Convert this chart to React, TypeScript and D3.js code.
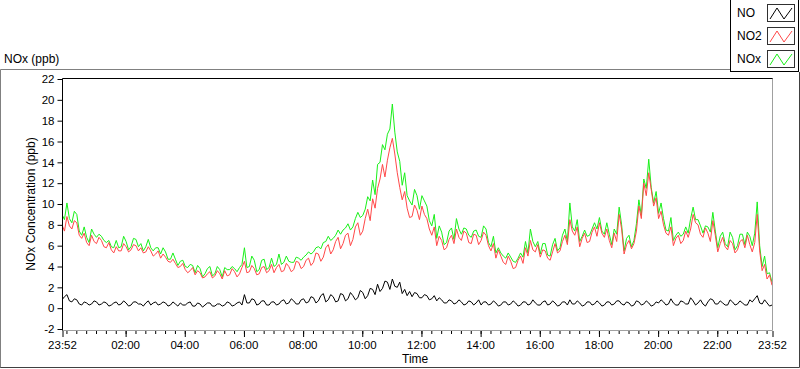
import React, { useEffect, useRef } from "react";
import * as d3 from "d3";

// readings every 5 minutes, starting 23:52
const START = new Date(2020, 0, 1, 23, 52);
const STEP_MIN = 5;

const noValues = [
  0.8, 1.1, 1.3, 0.7, 0.6, 0.9, 0.8, 0.4, 0.3, 0.6, 0.5, 0.3, 0.4, 0.7, 0.6, 0.3, 0.4, 0.6, 0.5, 0.2,
  0.3, 0.5, 0.6, 0.3, 0.4, 0.7, 0.5, 0.2, 0.3, 0.6, 0.6, 0.4, 0.4, 0.2, 0.5, 0.7, 0.3, 0.5, 0.6, 0.3,
  0.4, 0.6, 0.5, 0.2, 0.3, 0.6, 0.4, 0.2, 0.5, 0.3, 0.3, 0.5, 0.6, 0.2, 0.2, 0.5, 0.4, 0.1, 0.3, 0.5,
  0.5, 0.2, 0.2, 0.4, 0.4, 0.2, 0.3, 0.6, 0.5, 0.2, 0.3, 0.5, 0.6, 0.3, 1.3, 0.5, 0.5, 0.9, 0.8, 0.3,
  0.4, 0.7, 0.7, 0.3, 0.3, 0.6, 0.6, 0.3, 0.4, 0.7, 0.8, 0.4, 0.5, 0.9, 0.7, 0.4, 0.4, 0.8, 0.9, 0.5,
  0.6, 1.1, 1.0, 0.5, 0.7, 1.2, 1.4, 0.6, 0.8, 1.3, 1.1, 0.6, 0.7, 1.4, 1.3, 0.7, 0.9, 1.5, 1.2, 0.8,
  1.0, 1.7, 1.5, 0.9, 1.2, 1.9, 1.8, 1.3, 2.3, 1.6, 1.9, 2.6, 2.5, 1.8, 2.8, 2.1, 2.0, 2.5, 1.4, 1.8,
  1.2, 1.6, 1.1, 1.5, 1.4, 1.0, 1.0, 1.3, 1.2, 0.8, 0.9, 1.2, 0.7, 1.0, 0.8, 0.5, 0.5, 0.8, 0.7, 0.4,
  0.5, 0.8, 0.6, 0.3, 0.4, 0.7, 0.6, 0.3, 0.5, 0.8, 0.3, 0.6, 0.6, 0.3, 0.4, 0.7, 0.5, 0.2, 0.3, 0.6,
  0.6, 0.3, 0.4, 0.7, 0.5, 0.2, 0.3, 0.6, 0.6, 0.3, 0.4, 0.8, 0.5, 0.3, 0.3, 0.6, 0.7, 0.3, 0.4, 0.7,
  0.5, 0.2, 0.3, 0.6, 0.6, 0.3, 0.8, 0.4, 0.4, 0.7, 0.5, 0.2, 0.3, 0.6, 0.6, 0.3, 0.4, 0.7, 0.5, 0.2,
  0.3, 0.6, 0.6, 0.3, 0.4, 0.7, 0.7, 0.4, 0.3, 0.6, 0.5, 0.2, 0.3, 0.7, 0.6, 0.3, 0.4, 0.7, 0.5, 0.2,
  0.3, 0.6, 0.5, 0.8, 0.6, 0.3, 0.4, 0.9, 0.5, 0.3, 0.3, 0.7, 0.6, 0.4, 0.4, 1.0, 0.7, 0.3, 0.5, 0.8,
  0.4, 0.2, 0.6, 0.9, 0.8, 0.4, 0.4, 0.7, 0.5, 0.3, 0.3, 0.8, 0.6, 0.3, 0.4, 0.7, 0.5, 0.3, 0.3, 0.8,
  0.6, 0.9, 1.2, 0.5, 0.4, 0.8, 0.5, 0.2, 0.3,
];

const no2Values = [
  8.0, 7.4, 8.8, 7.9, 7.6, 8.4, 8.2, 7.0, 6.7, 7.2, 6.3, 6.0, 7.0, 6.4, 6.2, 6.8, 6.5, 5.9, 5.8, 6.3,
  5.6, 5.3, 5.9, 5.5, 5.5, 6.2, 5.9, 5.4, 5.6, 6.1, 6.0, 5.5, 5.8, 5.3, 5.4, 5.9, 5.5, 5.0, 5.2, 5.5,
  4.8, 5.2, 4.9, 4.5, 4.4, 4.7, 4.3, 3.9, 4.0, 4.3, 3.7, 3.4, 3.6, 3.9, 3.2, 3.6, 3.4, 2.9, 3.0, 3.3,
  3.5, 2.9, 3.1, 3.6, 3.3, 2.8, 3.6, 3.1, 3.2, 3.8, 3.5, 3.0, 3.3, 3.9, 4.5, 3.4, 3.5, 4.1, 3.8, 3.2,
  3.3, 3.9, 4.0, 3.4, 3.6, 4.2, 3.4, 3.9, 4.2, 3.5, 3.6, 4.3, 4.0, 3.5, 3.7, 4.5, 4.4, 3.8, 4.0, 4.6,
  4.8, 4.1, 4.4, 5.3, 5.2, 4.5, 4.9, 5.8, 6.1, 5.2, 5.6, 6.4, 6.8, 5.7, 6.2, 7.0, 7.2, 6.0, 6.6, 7.8,
  8.2, 7.0, 7.4, 8.6, 9.5, 8.4, 10.5, 9.6, 11.5, 12.4, 13.8, 12.6, 14.2, 15.4, 16.3, 14.8, 13.0, 11.6, 10.4, 11.2,
  9.6, 8.7, 8.8, 9.9, 9.4, 8.5, 9.8, 9.0, 8.6, 7.6, 7.0, 7.8, 6.0, 6.9, 6.5, 5.6, 5.8, 6.6, 7.0, 6.2,
  7.6, 6.8, 6.5, 7.4, 7.2, 6.3, 6.2, 7.1, 7.0, 6.1, 6.5, 7.3, 7.0, 6.0, 5.5, 6.2, 4.8, 5.6, 5.0, 4.4,
  4.2, 5.0, 4.5, 3.8, 3.9, 4.6, 5.0, 4.3, 5.8, 5.0, 6.5, 5.6, 5.4, 6.1, 4.9, 5.6, 5.5, 4.8, 4.6, 5.4,
  6.2, 5.3, 5.5, 6.4, 7.0, 6.1, 8.5, 7.4, 7.0, 7.8, 5.9, 6.7, 7.2, 6.3, 6.4, 7.3, 7.8, 6.9, 8.2, 7.2,
  6.8, 7.6, 6.5, 5.8, 7.2, 6.4, 9.0, 7.6, 5.2, 6.1, 6.5, 5.7, 6.2, 7.4, 9.8, 8.6, 12.0, 10.8, 13.0, 11.4,
  9.8, 10.6, 8.6, 9.3, 8.0, 7.2, 7.0, 7.8, 6.0, 6.7, 7.0, 6.2, 6.5, 7.4, 6.8, 7.6, 9.0, 8.2, 8.0, 7.1,
  6.8, 7.7, 7.2, 6.4, 8.4, 7.0, 5.4, 6.2, 6.8, 5.9, 5.6, 6.5, 6.2, 5.3, 5.6, 6.4, 6.6, 5.8, 7.0, 6.1,
  5.4, 6.3, 9.0, 5.5, 3.6, 4.2, 2.8, 3.2, 2.2,
];

const noxValues = [
  9.0, 8.5, 10.1, 8.6, 8.2, 9.3, 9.0, 7.4, 7.0, 7.8, 6.8, 6.3, 7.6, 7.1, 6.8, 7.1, 6.9, 6.5, 6.3, 6.5,
  5.9, 5.8, 6.5, 5.8, 5.9, 6.9, 6.4, 5.6, 5.9, 6.7, 6.6, 5.9, 6.2, 5.5, 5.9, 6.6, 5.8, 5.5, 5.8, 5.8,
  5.2, 5.8, 5.4, 4.7, 4.7, 5.3, 4.7, 4.1, 4.5, 4.6, 4.0, 3.9, 4.2, 4.1, 3.4, 4.1, 3.8, 3.0, 3.3, 3.8,
  4.0, 3.1, 3.3, 4.0, 3.7, 3.0, 3.9, 3.7, 3.7, 4.0, 3.8, 3.5, 3.9, 4.2, 5.8, 3.9, 4.0, 5.0, 4.6, 3.5,
  3.7, 4.6, 4.7, 3.7, 3.9, 4.8, 4.0, 4.2, 5.2, 4.2, 4.4, 5.0, 4.5, 4.4, 4.4, 4.9, 4.8, 4.6, 4.9, 5.1,
  5.4, 5.2, 5.4, 5.8, 5.9, 5.7, 6.3, 6.4, 6.9, 6.5, 6.7, 7.0, 7.5, 7.1, 7.5, 7.7, 8.1, 7.5, 7.8, 8.6,
  9.2, 8.7, 8.9, 9.5, 10.7, 10.3, 12.3, 10.9, 13.8, 14.0, 15.7, 15.2, 16.7, 17.2, 19.6, 16.9, 15.0, 14.1, 11.8, 13.0,
  10.8, 10.3, 9.9, 11.4, 10.8, 9.5, 10.8, 10.3, 9.8, 8.4, 7.9, 9.0, 6.7, 7.9, 7.3, 6.1, 6.3, 7.4, 7.7, 6.6,
  8.6, 7.6, 7.1, 7.7, 7.6, 7.0, 6.8, 7.4, 7.5, 6.9, 6.8, 7.9, 7.6, 6.3, 5.9, 6.9, 5.3, 5.8, 5.3, 5.0,
  4.8, 5.3, 4.9, 4.5, 4.4, 4.8, 5.3, 4.9, 6.4, 5.3, 7.6, 6.4, 5.9, 6.4, 5.2, 6.2, 6.2, 5.1, 5.0, 6.1,
  6.7, 5.5, 5.8, 7.0, 7.6, 6.4, 10.1, 7.8, 7.4, 8.5, 6.4, 6.9, 7.5, 6.9, 7.0, 7.6, 8.2, 7.6, 8.7, 7.4,
  7.1, 8.2, 7.1, 6.1, 7.6, 7.1, 9.7, 8.0, 5.5, 6.7, 7.0, 5.9, 6.5, 8.1, 10.4, 8.9, 12.4, 11.5, 14.3, 11.6,
  10.1, 11.2, 9.1, 10.1, 8.6, 7.5, 7.4, 8.7, 6.5, 7.0, 7.3, 6.9, 7.1, 7.8, 7.2, 8.6, 9.7, 8.5, 8.5, 7.9,
  7.2, 7.9, 7.8, 7.3, 9.2, 7.4, 5.8, 6.9, 7.3, 6.2, 5.9, 7.3, 6.8, 5.6, 6.0, 7.1, 7.1, 6.1, 7.3, 6.9,
  6.0, 7.2, 10.2, 6.0, 4.0, 5.0, 3.3, 3.4, 2.5,
];

const seriesNames = ["NO", "NO2", "NOx"];
const seriesColors = ["#000000", "#ff4848", "#19f019"];

const yTicks = [-2, 0, 2, 4, 6, 8, 10, 12, 14, 16, 18, 20, 22];
// minutes after start for the labelled ticks
const xMajorMinutes = [0, 128, 248, 368, 488, 608, 728, 848, 968, 1088, 1208, 1328, 1440];
const xMajorLabels = ["23:52", "02:00", "04:00", "06:00", "08:00", "10:00", "12:00", "14:00", "16:00", "18:00", "20:00", "22:00", "23:52"];

const W = 800;
const H = 369;
const plot = { left: 62, right: 772, top: 78, bottom: 330 };
const FONT = "'Liberation Sans', Arial, sans-serif";

function addMin(m: number) {
  return new Date(START.getTime() + m * 60000);
}

function renderChart(svgEl: SVGSVGElement) {
  const svg = d3.select(svgEl);
  svg.selectAll("*").remove();

  svg.append("rect").attr("width", W).attr("height", H).attr("fill", "#fff");

  // outer frame of the graph
  svg.append("path")
    .attr("d", `M0.5,368 V69.5 H730`)
    .attr("fill", "none").attr("stroke", "#808080");
  svg.append("path")
    .attr("d", `M0.5,367.5 H799.5 V72`)
    .attr("fill", "none").attr("stroke", "#404040");

  const x = d3.scaleTime()
    .domain([START, addMin(1440)])
    .range([plot.left, plot.right]);

  const y = d3.scaleLinear()
    .domain([-2, 22])
    .range([plot.bottom - 1, plot.top + 1]);

  // plot area border
  svg.append("path")
    .attr("d", `M${plot.right + 0.5},${plot.top} V${plot.bottom + 0.5} H${plot.left}`)
    .attr("fill", "none").attr("stroke", "#a0a0a0");

  // series
  const lineFor = (vals: number[]) =>
    d3.line<number>()
      .x((_, i) => x(addMin(i * STEP_MIN)))
      .y(d => y(d))(vals);

  svg.append("clipPath").attr("id", "plotClip")
    .append("rect")
    .attr("x", plot.left + 1).attr("y", plot.top + 1)
    .attr("width", plot.right - plot.left - 1).attr("height", plot.bottom - plot.top - 1);
  const g = svg.append("g").attr("clip-path", "url(#plotClip)");

  [noxValues, no2Values, noValues].forEach((vals, k) => {
    g.append("path").attr("d", lineFor(vals)).attr("fill", "none")
      .attr("stroke", seriesColors[2 - k]).attr("stroke-width", 1);
  });

  // top + left border (black)
  svg.append("path")
    .attr("d", `M${plot.left + 0.5},${plot.bottom + 0.5} V${plot.top + 0.5} H${plot.right + 0.5}`)
    .attr("fill", "none").attr("stroke", "#000");

  // y axis
  const yAxis = svg.append("g")
    .attr("transform", `translate(${plot.left + 0.5},0)`)
    .call(d3.axisLeft(y).tickValues(yTicks).tickSize(5).tickPadding(3).tickFormat(d => String(d)));
  yAxis.select(".domain").remove();
  yAxis.selectAll("text").attr("font-family", FONT).attr("font-size", 11.5).attr("fill", "#000");

  // x axis: minor ticks every 20 min
  const minorTicks = d3.timeMinute.every(20)!.range(START, addMin(1441));
  const xMinor = svg.append("g")
    .attr("transform", `translate(0,${plot.bottom + 1})`)
    .call(d3.axisBottom(x).tickValues(minorTicks).tickSize(3).tickFormat(() => ""));
  xMinor.select(".domain").remove();

  const majorDates = xMajorMinutes.map(addMin);
  const xMajor = svg.append("g")
    .attr("transform", `translate(0,${plot.bottom + 1})`)
    .call(d3.axisBottom(x).tickValues(majorDates).tickSize(6).tickPadding(4)
      .tickFormat((_, i) => xMajorLabels[i]));
  xMajor.select(".domain").remove();
  xMajor.selectAll("text").attr("font-family", FONT).attr("font-size", 11.5).attr("fill", "#000");
  xMajor.selectAll(".tick line").attr("transform", "translate(0.5,0)");
  xMinor.selectAll(".tick line").attr("transform", "translate(0.5,0)");

  // titles
  svg.append("text").attr("x", 4).attr("y", 63)
    .attr("font-family", FONT).attr("font-size", 12).text("NOx (ppb)");
  svg.append("text").attr("x", 402).attr("y", 363)
    .attr("font-family", FONT).attr("font-size", 12).text("Time");
  svg.append("text")
    .attr("transform", `translate(35,${(plot.top + plot.bottom) / 2}) rotate(-90)`)
    .attr("text-anchor", "middle")
    .attr("font-family", FONT).attr("font-size", 12).text("NOx Concentration (ppb)");

  // legend
  const lg = svg.append("g");
  lg.append("rect").attr("x", 730.5).attr("y", -1).attr("width", 68).attr("height", 72.5)
    .attr("fill", "#fff").attr("stroke", "#000");
  seriesNames.forEach((name, i) => {
    const top = 4 + i * 23;
    lg.append("text").attr("x", 737).attr("y", top + 13)
      .attr("font-family", FONT).attr("font-size", 12).text(name);
    lg.append("rect").attr("x", 767.5).attr("y", top + 0.5).attr("width", 27).attr("height", 17)
      .attr("fill", "#fff").attr("stroke", "#303030");
    const zig = d3.line()([
      [770, top + 15], [777, top + 4], [784, top + 15], [792, top + 4],
    ]);
    lg.append("path").attr("d", zig).attr("fill", "none").attr("stroke", seriesColors[i]);
  });
}

export default function App() {
  const svgRef = useRef<SVGSVGElement>(null);

  useEffect(() => {
    document.body.style.margin = "0";
    if (svgRef.current) renderChart(svgRef.current);
  }, []);

  return <svg ref={svgRef} width={W} height={H} style={{ display: "block" }} />;
}
